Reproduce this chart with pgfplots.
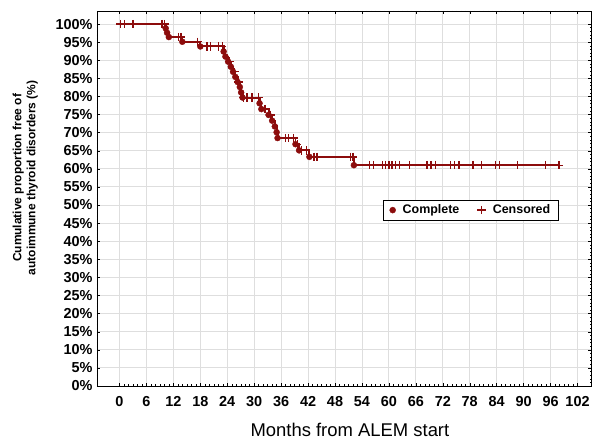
\documentclass[border=0pt]{standalone}
\usepackage{fontspec}
\setmainfont{Liberation Sans}
\usepackage{pgfplots}
\pgfplotsset{compat=1.18}
\definecolor{kmred}{RGB}{140,12,12}
\definecolor{gridgray}{RGB}{222,222,222}
\begin{document}
\begin{tikzpicture}
\begin{axis}[
  name=ax,
  scale only axis,
  width=494bp, height=375bp,
  xmin=-5, xmax=105,
  ymin=0, ymax=103.6,
  xtick={0,6,...,102},
  ytick={0,5,...,100},
  yticklabel={\pgfmathprintnumber{\tick}\%},
  /pgf/number format/assume math mode=true,
  ticklabel style={font=\fontsize{14.5}{16}\selectfont\bfseries},
  xticklabel style={yshift=-7bp},
  yticklabel style={xshift=-1bp},
  tick align=inside,
  major tick length=3bp,
  minor tick length=1.5bp,
  minor x tick num=5,
  minor y tick num=4,
  tick style={black, line width=0.4pt},
  grid=major,
  major grid style={gridgray, line width=0.9pt},
  axis line style={black, line width=0.7pt},
  xlabel={Months from ALEM start},
  xlabel style={font=\fontsize{18.5}{21}\selectfont, at={(axis description cs:0.512,-0.117)}, anchor=center},
  ylabel={Cumulative proportion free of\\autoimmune thyroid disorders (\%)},
  ylabel style={font=\fontsize{12}{14}\selectfont\bfseries, align=center, at={(axis description cs:-0.145,0.555)}, anchor=center, rotate=0},
  legend columns=2,
  legend style={at={(axis description cs:0.757,0.469)}, anchor=center, font=\fontsize{12.5}{14}\selectfont\bfseries, draw=black, line width=0.6pt, inner xsep=6bp, inner ysep=3bp,
    /tikz/every odd column/.append style={column sep=5bp},
    /tikz/every even column/.append style={column sep=16bp}},
  legend cell align=left,
]
% Kaplan-Meier step line
\addplot[const plot, kmred, line width=2pt, forget plot] coordinates {
(0,100) (10.3,98.8) (10.6,97.6) (11.0,96.4) (14.0,95.1) (18.0,93.8)
(23.2,92.4) (23.6,91.0) (24.2,89.6) (24.8,88.2) (25.3,86.8) (25.8,85.4)
(26.3,84.0) (26.8,82.6) (27.1,81.1) (27.4,79.7) (31.2,78.1) (31.6,76.5)
(33.2,74.9) (34.0,73.3) (34.6,71.7) (35.0,70.1) (35.2,68.5) (39.2,66.8)
(40.0,65.1) (42.3,63.3) (52.2,61.0) (97.9,61.0)
};
% Complete (events)
\addplot[only marks, mark=*, mark size=3bp, kmred, mark options={fill=kmred, line width=0.4pt}] coordinates {
(10.3,98.8) (10.6,97.6) (11.0,96.4) (14.0,95.1) (18.0,93.8)
(23.2,92.4) (23.6,91.0) (24.2,89.6) (24.8,88.2) (25.3,86.8) (25.8,85.4)
(26.3,84.0) (26.8,82.6) (27.1,81.1) (27.4,79.7) (31.2,78.1) (31.6,76.5)
(33.2,74.9) (34.0,73.3) (34.6,71.7) (35.0,70.1) (35.2,68.5) (39.2,66.8)
(40.0,65.1) (42.3,63.3) (52.2,61.0)
};
\addlegendentry{Complete}
% Censored
\addplot[only marks, mark=+, mark size=4.2bp, kmred, mark options={line width=1.3pt}] coordinates {
(0.2,100) (1.1,100) (3.0,100) (9.5,100) (10.0,100)
(13.2,96.4) (13.7,96.4) (17.4,95.1)
(19.5,93.8) (20.3,93.8) (22.1,93.8) (22.9,93.8)
(24.5,89.6) (25.6,86.8) (26.5,84.0) (27.6,79.7)
(28.4,79.7) (29.5,79.7) (31.0,79.7) (32.4,76.5) (33.6,74.9)
(36.9,68.5) (37.6,68.5) (38.8,68.5) (39.6,66.8) (40.6,65.1) (41.6,65.1)
(43.3,63.3) (44.0,63.3) (51.4,63.3) (52.0,63.3)
(55.7,61.0) (56.5,61.0) (58.5,61.0) (59.2,61.0) (60.0,61.0) (60.7,61.0)
(61.5,61.0) (62.4,61.0) (64.6,61.0) (68.5,61.0) (69.4,61.0) (70.4,61.0)
(73.7,61.0) (74.6,61.0) (75.6,61.0) (78.7,61.0) (80.6,61.0) (83.7,61.0)
(84.7,61.0) (88.7,61.0) (94.9,61.0) (97.9,61.0)
};
\addlegendentry{Censored}
\end{axis}
\pgfresetboundingbox
\path (ax.south west) ++(-97bp,-53bp) rectangle ++(598bp,439bp);
\end{tikzpicture}
\end{document}
